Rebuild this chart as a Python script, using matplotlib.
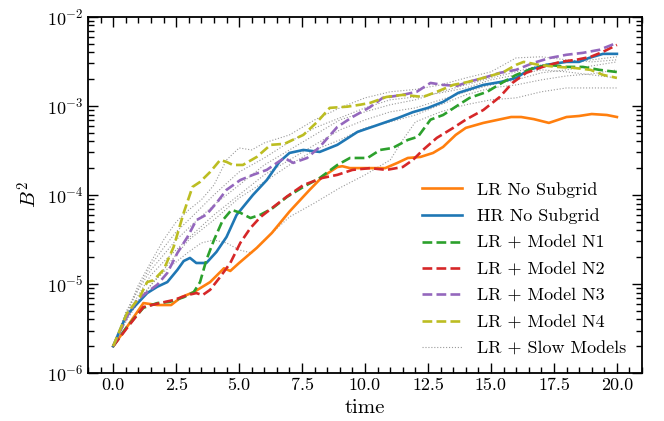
import numpy as np
import matplotlib
matplotlib.use("Agg")
import matplotlib.pyplot as plt

plt.rcParams.update({"font.family": "serif",
                     "font.serif": ["cmr10"],
                     "mathtext.fontset": "cm",
                     "axes.formatter.use_mathtext": True,
                     "font.size": 13})

# LR No Subgrid
t_lr = [0, 0.55, 1.2, 1.75, 2.3, 2.7, 3.2, 3.85, 4.4, 4.65, 5.0, 5.7, 6.3, 7.0, 7.8, 8.3,
        8.9, 9.1, 9.4, 10.2, 10.8, 11.3, 11.7, 12.2, 12.7, 13.1, 13.6, 14.0, 14.7, 15.4,
        15.8, 16.2, 16.7, 17.3, 18.0, 18.5, 19.0, 19.6, 20.0]
b_lr = [2.0e-6, 3.3e-6, 6.1e-6, 5.8e-6, 5.8e-6, 7.1e-6, 8.1e-6, 1.05e-5, 1.5e-5, 1.4e-5,
        1.72e-5, 2.54e-5, 3.74e-5, 6.5e-5, 1.14e-4, 1.59e-4, 2.06e-4, 2.1e-4, 2.0e-4, 2.0e-4,
        2.0e-4, 2.3e-4, 2.6e-4, 2.67e-4, 2.96e-4, 3.46e-4, 4.72e-4, 5.66e-4, 6.44e-4, 7.1e-4,
        7.5e-4, 7.5e-4, 7.1e-4, 6.44e-4, 7.5e-4, 7.7e-4, 8.1e-4, 7.9e-4, 7.5e-4]

# HR No Subgrid
t_hr = [0, 0.5, 0.8, 1.35, 1.75, 2.15, 2.55, 2.8, 3.05, 3.3, 3.7, 4.1, 4.5, 4.9, 5.55, 6.1,
        6.6, 7.0, 7.55, 8.2, 8.9, 9.7, 10.5, 11.3, 11.9, 12.5, 13.1, 13.7, 14.2, 14.7, 15.4,
        16.0, 16.5, 17.2, 18.0, 18.5, 18.9, 19.45, 20.0]
b_hr = [2.0e-6, 4.3e-6, 5.4e-6, 7.9e-6, 9.3e-6, 1.05e-5, 1.44e-5, 1.81e-5, 1.96e-5, 1.72e-5,
        1.72e-5, 2.29e-5, 3.37e-5, 5.96e-5, 1.0e-4, 1.47e-4, 2.35e-4, 2.96e-4, 3.2e-4, 3.04e-4,
        3.65e-4, 5.1e-4, 6.1e-4, 7.3e-4, 8.5e-4, 9.5e-4, 1.11e-3, 1.4e-3, 1.55e-3, 1.72e-3,
        1.86e-3, 2.06e-3, 2.54e-3, 2.89e-3, 3.12e-3, 3.12e-3, 3.46e-3, 3.84e-3, 3.84e-3]

# LR + Model N1
t_n1 = [0, 0.55, 1.2, 1.75, 2.25, 2.8, 3.2, 3.45, 3.7, 4.0, 4.35, 4.7, 5.05, 5.45, 5.85, 6.3,
        6.9, 7.55, 8.2, 8.9, 9.4, 10.1, 10.6, 11.1, 11.7, 12.1, 12.6, 13.1, 13.65, 14.15,
        14.85, 15.5, 16.0, 16.7, 17.3, 18.0, 18.65, 19.3, 20.0]
b_n1 = [2.0e-6, 3.3e-6, 5.4e-6, 6.1e-6, 6.3e-6, 7.1e-6, 8.1e-6, 1.05e-5, 1.86e-5, 3.1e-5,
        5.2e-5, 6.8e-5, 6.3e-5, 5.5e-5, 6.0e-5, 7.0e-5, 9.5e-5, 1.23e-4, 1.55e-4, 2.17e-4,
        2.6e-4, 2.6e-4, 3.2e-4, 3.37e-4, 4.15e-4, 4.5e-4, 7.0e-4, 7.9e-4, 1.0e-3, 1.23e-3,
        1.44e-3, 1.86e-3, 2.23e-3, 2.67e-3, 2.89e-3, 2.74e-3, 2.74e-3, 2.54e-3, 2.4e-3]

# LR + Model N2
t_n2 = [0, 0.55, 1.2, 1.85, 2.4, 2.95, 3.3, 3.55, 3.85, 4.25, 4.65, 5.05, 5.45, 5.85, 6.3,
        6.9, 7.55, 8.3, 8.9, 9.5, 10.2, 10.85, 11.5, 11.9, 12.3, 12.85, 13.5, 14.0, 14.7,
        15.35, 15.85, 16.4, 17.05, 17.75, 18.4, 18.95, 19.45, 20.0]
b_n2 = [2.0e-6, 3.2e-6, 5.5e-6, 6.1e-6, 6.6e-6, 7.5e-6, 7.9e-6, 7.5e-6, 8.6e-6, 1.2e-5,
        1.72e-5, 2.9e-5, 4.25e-5, 5.65e-5, 7.1e-5, 9.6e-5, 1.29e-4, 1.55e-4, 1.68e-4, 1.91e-4,
        2.0e-4, 1.91e-4, 2.06e-4, 2.47e-4, 3.2e-4, 4.37e-4, 5.66e-4, 7.0e-4, 9.0e-4, 1.26e-3,
        1.81e-3, 2.35e-3, 2.74e-3, 3.12e-3, 3.3e-3, 3.55e-3, 4.05e-3, 4.84e-3]

# LR + Model N3
t_n3 = [0, 0.55, 0.95, 1.35, 1.75, 2.15, 2.55, 2.95, 3.3, 3.7, 4.1, 4.5, 5.05, 5.55, 6.1,
        6.5, 6.8, 7.15, 7.7, 8.2, 8.9, 9.5, 10.2, 10.7, 11.5, 12.05, 12.6, 13.1, 13.65, 14.1,
        14.7, 15.35, 16.0, 16.7, 17.35, 18.0, 18.65, 19.3, 20.0]
b_n3 = [2.0e-6, 4.3e-6, 6.6e-6, 8.1e-6, 9.8e-6, 1.33e-5, 2.23e-5, 3.37e-5, 5.2e-5, 6.0e-5,
        8.1e-5, 1.14e-4, 1.47e-4, 1.68e-4, 1.91e-4, 2.29e-4, 2.6e-4, 2.29e-4, 2.6e-4, 3.46e-4,
        5.8e-4, 7.5e-4, 9.7e-4, 1.23e-3, 1.33e-3, 1.44e-3, 1.81e-3, 1.72e-3, 1.68e-3, 1.86e-3,
        2.06e-3, 2.35e-3, 2.54e-3, 3.05e-3, 3.46e-3, 3.75e-3, 3.94e-3, 4.26e-3, 5.1e-3]

# LR + Model N4
t_n4 = [0, 0.55, 1.05, 1.35, 1.6, 2.0, 2.4, 2.8, 3.15, 3.45, 3.85, 4.25, 4.5, 4.75, 5.15,
        5.7, 6.25, 6.8, 7.55, 8.1, 8.6, 9.3, 9.8, 10.2, 10.85, 11.5, 12.3, 12.85, 13.5, 14.1,
        14.85, 15.5, 16.0, 16.3, 16.9, 17.6, 18.25, 18.95, 19.45, 20.0]
b_n4 = [2.0e-6, 4.7e-6, 7.1e-6, 1.05e-5, 1.1e-5, 1.44e-5, 2.6e-5, 6.3e-5, 1.23e-4, 1.4e-4,
        1.81e-4, 2.47e-4, 2.35e-4, 2.17e-4, 2.17e-4, 2.67e-4, 3.65e-4, 3.75e-4, 4.72e-4,
        6.6e-4, 9.5e-4, 9.8e-4, 1.03e-3, 1.08e-3, 1.26e-3, 1.33e-3, 1.26e-3, 1.44e-3, 1.72e-3,
        1.86e-3, 2.12e-3, 2.4e-3, 2.89e-3, 3.12e-3, 2.89e-3, 2.74e-3, 2.68e-3, 2.54e-3,
        2.23e-3, 2.06e-3]

# LR + slow models (grey dotted)
t_s1 = [0, 0.5, 1, 1.5, 2, 2.5, 3, 3.5, 4, 4.5, 5, 5.5, 6, 7, 8, 9, 10, 11, 12, 13, 14, 15,
        16, 17, 18, 19, 20]
b_s1 = [2.0e-6, 4.49e-6, 9.75e-6, 1.77e-5, 3.12e-5, 4.97e-5, 6.78e-5, 8.8e-5, 1.29e-4,
        2.47e-4, 3.37e-4, 3.2e-4, 3.84e-4, 4.72e-4, 6.96e-4, 9.5e-4, 1.23e-3, 1.44e-3,
        1.53e-3, 1.72e-3, 2.06e-3, 2.41e-3, 3.46e-3, 3.56e-3, 3.29e-3, 3.12e-3, 3.29e-3]
t_s2 = [0, 0.5, 1, 1.5, 2, 2.5, 3, 3.5, 4, 4.5, 5, 5.5, 6, 7, 8, 9, 10, 11, 11.5, 12, 13,
        14, 15, 16, 17, 18, 19, 20]
b_s2 = [2.0e-6, 3.94e-6, 6.6e-6, 9.75e-6, 1.36e-5, 1.77e-5, 2.29e-5, 2.89e-5, 3.12e-5,
        2.89e-5, 2.41e-5, 2.23e-5, 3.12e-5, 5.66e-5, 8.13e-5, 1.2e-4, 1.68e-4, 2.47e-4,
        4.15e-4, 6.6e-4, 8.57e-4, 1.03e-3, 1.17e-3, 1.23e-3, 1.44e-3, 1.59e-3, 1.59e-3, 1.59e-3]
t_s = [0, 0.5, 1, 1.5, 2, 2.5, 3, 4, 5, 6, 7, 8, 9, 10, 11, 12, 13, 14, 15, 16, 17, 18, 19, 20]
b_s3 = [2.0e-6, 4.84e-6, 8.57e-6, 1.44e-5, 2.12e-5, 3.12e-5, 4.26e-5, 7.72e-5, 1.29e-4,
        2.17e-4, 3.2e-4, 4.72e-4, 6.96e-4, 8.57e-4, 1.03e-3, 1.17e-3, 1.44e-3, 1.72e-3,
        2.06e-3, 2.41e-3, 2.89e-3, 3.12e-3, 3.29e-3, 3.56e-3]
b_s4 = [2.0e-6, 4.15e-6, 7.52e-6, 1.26e-5, 1.77e-5, 2.41e-5, 3.29e-5, 5.96e-5, 1.0e-4,
        1.68e-4, 2.47e-4, 3.65e-4, 5.37e-4, 6.96e-4, 8.57e-4, 9.5e-4, 1.17e-3, 1.44e-3,
        1.72e-3, 1.96e-3, 2.35e-3, 2.54e-3, 2.81e-3, 3.12e-3]
b_s5 = [2.0e-6, 3.74e-6, 6.28e-6, 9.75e-6, 1.44e-5, 2.12e-5, 3.12e-5, 5.24e-5, 9.25e-5,
        1.4e-4, 2.17e-4, 3.2e-4, 4.15e-4, 5.66e-4, 6.6e-4, 7.9e-4, 1.03e-3, 1.33e-3,
        1.59e-3, 1.72e-3, 1.96e-3, 2.17e-3, 2.29e-3, 2.54e-3]
b_s6 = [2.0e-6, 4.37e-6, 9.02e-6, 1.63e-5, 2.54e-5, 3.84e-5, 5.24e-5, 1.0e-4, 1.81e-4,
        2.6e-4, 3.94e-4, 5.66e-4, 7.33e-4, 9.5e-4, 1.17e-3, 1.26e-3, 1.4e-3, 1.59e-3,
        1.96e-3, 2.23e-3, 2.54e-3, 2.41e-3, 2.23e-3, 2.06e-3]

fig = plt.figure(figsize=(6.64, 4.21), dpi=100)
ax = fig.add_axes([0.1325, 0.114, 0.8345, 0.846])

slow = [(t_s1, b_s1), (t_s2, b_s2), (t_s, b_s3), (t_s, b_s4), (t_s, b_s5), (t_s, b_s6)]
for i, (ts, bs) in enumerate(slow):
    ax.plot(ts, bs, ":", color="#9a9a9a", lw=0.8, zorder=1,
            label="LR + Slow Models" if i == 0 else None)

ax.plot(t_lr, b_lr, "-", color="#ff7f0e", lw=1.9, label="LR No Subgrid", zorder=3)
ax.plot(t_hr, b_hr, "-", color="#1f77b4", lw=1.9, label="HR No Subgrid", zorder=3)
ax.plot(t_n1, b_n1, "--", color="#2ca02c", lw=1.9, label="LR + Model N1", zorder=3)
ax.plot(t_n2, b_n2, "--", color="#d62728", lw=1.9, label="LR + Model N2", zorder=3)
ax.plot(t_n3, b_n3, "--", color="#9467bd", lw=1.9, label="LR + Model N3", zorder=3)
ax.plot(t_n4, b_n4, "--", color="#bcbd22", lw=1.9, label="LR + Model N4", zorder=3)

ax.set_yscale("log")
ax.set_ylim(1e-6, 1e-2)
ax.set_xlim(-1, 21)
ax.set_xticks(np.arange(0, 20.1, 2.5))
ax.set_xticklabels([f"{v:.1f}" for v in np.arange(0, 20.1, 2.5)])
ax.xaxis.set_minor_locator(matplotlib.ticker.MultipleLocator(0.5))
ax.tick_params(which="both", direction="in", top=True, right=True, width=1)
ax.tick_params(which="major", length=7)
ax.tick_params(which="minor", length=4)
for s in ax.spines.values():
    s.set_linewidth(1.3)

ax.set_xlabel("time", fontsize=15)
ax.set_ylabel("$B^2$", fontsize=15)

h, l = ax.get_legend_handles_labels()
order = [1, 2, 3, 4, 5, 6, 0]
ax.legend([h[i] for i in order], [l[i] for i in order], loc="lower right",
          frameon=False, fontsize=13, handlelength=2.2, labelspacing=0.6)

fig.savefig("out.png", dpi=100)
